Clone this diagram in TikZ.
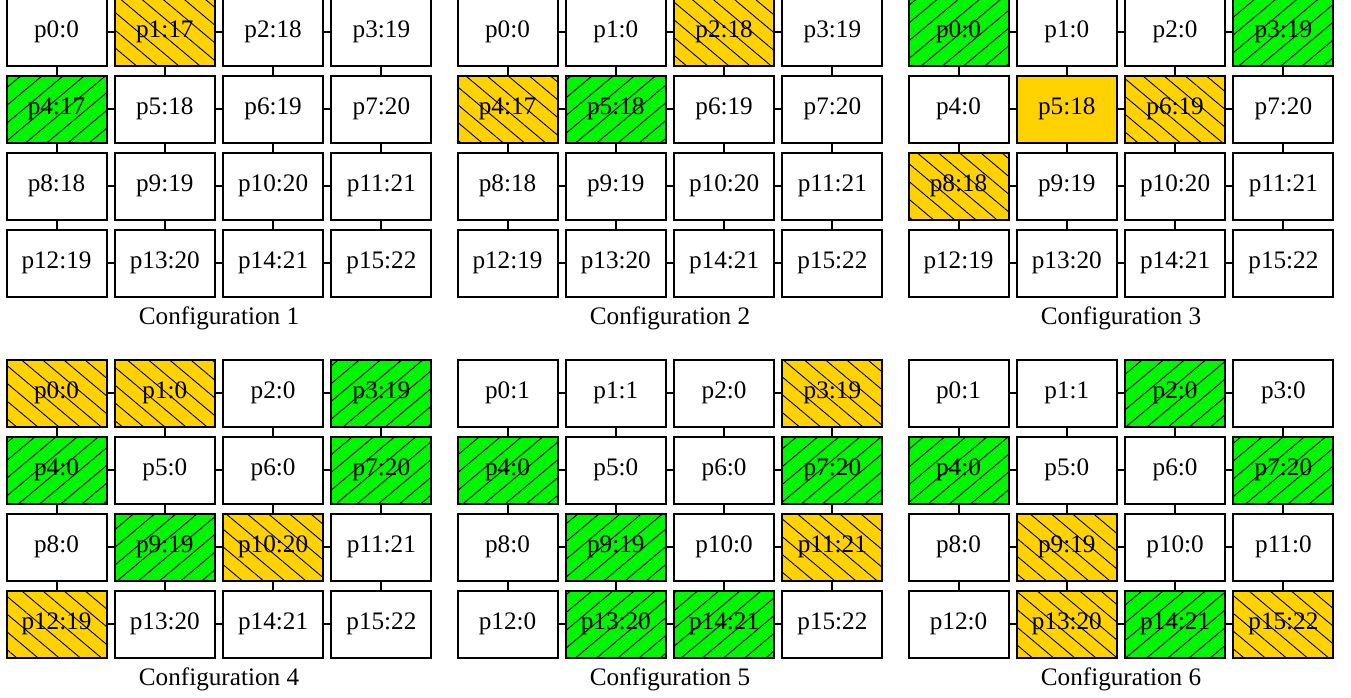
\documentclass[tikz,border=0pt]{standalone}
\usepackage{fontspec}
\setmainfont{Liberation Serif}
\usepackage{xcolor}
\usetikzlibrary{patterns.meta}

\definecolor{golden}{RGB}{255,210,0}
\definecolor{brightgreen}{RGB}{0,245,0}

\tikzset{
	cell/.style={draw, line width=1pt, minimum width=50pt, minimum height=33.5pt, inner sep=0pt},
	cell-w/.style={cell, fill=white},
	cell-g/.style={cell, preaction={fill=brightgreen}, pattern={Lines[angle=40,distance=6.8pt,line width=0.45pt]}},
	cell-o/.style={cell, preaction={fill=golden}, pattern={Lines[angle=-40,distance=6.8pt,line width=0.45pt]}},
	cell-s/.style={cell, fill=golden},
	link/.style={line width=1pt},
}

\begin{document}
\begin{tikzpicture}[x=0.5pt,y=-0.5pt,font=\fontsize{12.6}{15}\selectfont]
		\useasboundingbox (0,0) rectangle (1351,697);
		
		%configurations: number / left / top / value and mark of p0..p15
		\foreach \cn/\cx/\cy/\vals in {
			1/6/-2/{0/w,17/o,18/w,19/w,17/g,18/w,19/w,20/w,18/w,19/w,20/w,21/w,19/w,20/w,21/w,22/w},
			2/457/-2/{0/w,0/w,18/o,19/w,17/o,18/g,19/w,20/w,18/w,19/w,20/w,21/w,19/w,20/w,21/w,22/w},
			3/908/-2/{0/g,0/w,0/w,19/g,0/w,18/s,19/o,20/w,18/o,19/w,20/w,21/w,19/w,20/w,21/w,22/w},
			4/6/359/{0/o,0/o,0/w,19/g,0/g,0/w,0/w,20/g,0/w,19/g,20/o,21/w,19/o,20/w,21/w,22/w},
			5/457/359/{1/w,1/w,0/w,19/o,0/g,0/w,0/w,20/g,0/w,19/g,0/w,21/o,0/w,20/g,21/g,22/w},
			6/908/359/{1/w,1/w,0/g,0/w,0/g,0/w,0/w,20/g,0/w,19/o,0/w,0/w,0/w,20/o,21/g,22/o}}
		{
			%draw cells
			\foreach \val/\mk [count=\idx from 0] in \vals {
				\pgfmathtruncatemacro\col{mod(\idx,4)}
				\pgfmathtruncatemacro\row{div(\idx,4)}
				\node[cell-\mk] (c\cn p\idx) at (\cx+50.5+108.3*\col, \cy+34+77*\row) {p\idx:\val};
			}
			
			%horizontal links
			\foreach \rr in {0,...,3}
			\foreach \cc in {0,1,2} {
				\pgfmathtruncatemacro\na{4*\rr+\cc}
				\pgfmathtruncatemacro\nb{\na+1}
				\draw[link] (c\cn p\na.east) -- (c\cn p\nb.west);
			}
			
			%vertical links
			\foreach \na in {0,...,11} {
				\pgfmathtruncatemacro\nb{\na+4}
				\draw[link] (c\cn p\na.south) -- (c\cn p\nb.north);
			}
			
			%caption
			\node (cap\cn) at (\cx+213, \cy+320) {Configuration \cn};
		}
	
	\end{tikzpicture}
\end{document}
